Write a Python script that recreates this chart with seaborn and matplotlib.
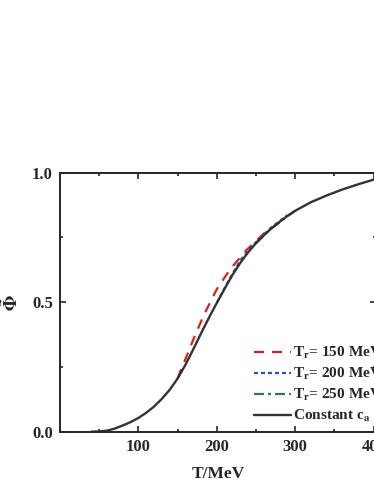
import numpy as np
import pandas as pd
import seaborn as sns
import matplotlib
matplotlib.use('Agg')
import matplotlib.pyplot as plt
from matplotlib.ticker import MultipleLocator, FormatStrFormatter

#------------------------------------------------------------------------------
# Data
T_ca = [40, 50, 60, 70, 80, 90, 100, 110, 120, 130, 140, 150, 160, 170, 180,
        190, 200, 210, 220, 230, 240, 250, 260, 270, 280, 290, 300, 320, 340,
        360, 380, 403]
phi_ca = [0.0, 0.001, 0.004, 0.012, 0.024, 0.037, 0.053, 0.073, 0.097, 0.127,
          0.162, 0.205, 0.258, 0.318, 0.38, 0.44, 0.497, 0.552, 0.605, 0.652,
          0.693, 0.728, 0.758, 0.786, 0.81, 0.833, 0.853, 0.886, 0.912, 0.935,
          0.955, 0.976]

T_150 = [150, 155, 160, 170, 183, 200, 217, 238, 260, 285]
phi_150 = [0.205, 0.245, 0.28, 0.355, 0.447, 0.55, 0.627, 0.702, 0.765, 0.818]

T_200 = [200, 215, 230, 250, 270, 290]
phi_200 = [0.497, 0.583, 0.662, 0.732, 0.79, 0.836]

T_250 = [250, 265, 280, 300]
phi_250 = [0.728, 0.773, 0.81, 0.853]

labels = [r'T$_\mathbf{r}$= 150 MeV', r'T$_\mathbf{r}$= 200 MeV',
          r'T$_\mathbf{r}$= 250 MeV', r'Constant c$_\mathbf{a}$']

#------------------------------------------------------------------------------
sns.set_style('ticks')
plt.rcParams['font.family'] = ['Liberation Serif', 'DejaVu Serif']
plt.rcParams['font.weight'] = 'bold'
plt.rcParams['mathtext.fontset'] = 'stix'

fig = plt.figure(figsize=(3.74, 4.84), dpi=100)
ax = fig.add_axes([59.9 / 374, 52.3 / 484, (376 - 59.9) / 374, 259.0 / 484])

sns.lineplot(x=T_150, y=phi_150, ax=ax, color='#d9211e', lw=1.6, label=labels[0])
ax.lines[-1].set_dashes([4.5, 3.6])
sns.lineplot(x=T_200, y=phi_200, ax=ax, color='#2456b4', lw=1.6, label=labels[1])
ax.lines[-1].set_dashes([1.8, 1.35])
sns.lineplot(x=T_250, y=phi_250, ax=ax, color='#2e7d4f', lw=1.6, label=labels[2])
ax.lines[-1].set_dashes([4.5, 1.8, 1.35, 1.8])
sns.lineplot(x=T_ca, y=phi_ca, ax=ax, color='#333333', lw=1.7, label=labels[3])

ax.set_xlim(0, 403)
ax.set_ylim(0, 1.0)
ax.set_xticks([100, 200, 300, 400])
ax.xaxis.set_minor_locator(MultipleLocator(50))
ax.yaxis.set_major_locator(MultipleLocator(0.5))
ax.yaxis.set_minor_locator(MultipleLocator(0.25))
ax.xaxis.set_major_formatter(FormatStrFormatter('%d'))
ax.yaxis.set_major_formatter(FormatStrFormatter('%.1f'))
ax.tick_params(which='both', direction='in', top=True, right=True,
               labelsize=12, width=1.2, pad=5)
ax.tick_params(which='major', length=4)
ax.tick_params(which='minor', length=2.5)
for s in ax.spines.values():
    s.set_linewidth(1.4)

ax.set_xlabel('T/MeV', fontsize=12.5, fontweight='bold', labelpad=8)
ax.set_ylabel(r'$\tilde{\Phi}$', fontsize=13)
ax.yaxis.set_label_coords(-0.121, 0.5)

ax.legend(loc='lower left', bbox_to_anchor=(254 / 374, 60 / 484),
          bbox_transform=fig.transFigure, frameon=False, fontsize=11,
          handlelength=2.4, handletextpad=0.17, labelspacing=0.32,
          borderpad=0, borderaxespad=0)

fig.savefig('out.png', dpi=100)
